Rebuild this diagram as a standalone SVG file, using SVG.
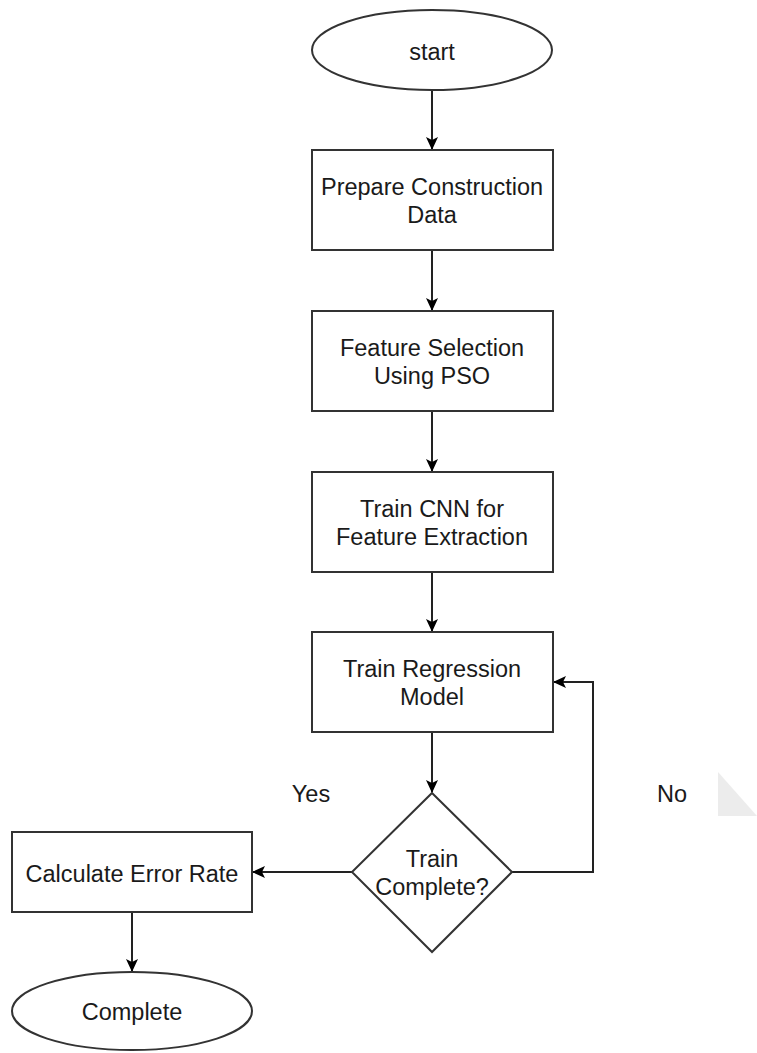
<svg xmlns="http://www.w3.org/2000/svg" width="757" height="1053" viewBox="0 0 757 1053">
<style>
.s{fill:#fff;stroke:#333;stroke-width:2}
.t{font-family:"Liberation Sans",Arial,sans-serif;font-size:23.5px;fill:#1a1a1a;text-anchor:middle}
.c{fill:none;stroke:#222;stroke-width:2}
</style>
<defs>
<marker id="a" markerWidth="14" markerHeight="14" refX="12" refY="7" orient="auto" markerUnits="userSpaceOnUse">
<path d="M0,1 L13,7 L0,13 L3,7 Z" fill="#000"/>
</marker>
</defs>
<rect width="757" height="1053" fill="#fff"/>
<polygon points="718,772 718,816 757,816" fill="#ececec"/>
<g id="connectors">
<line class="c" x1="432" y1="90" x2="432" y2="149" marker-end="url(#a)"/>
<line class="c" x1="432" y1="250" x2="432" y2="310" marker-end="url(#a)"/>
<line class="c" x1="432" y1="411" x2="432" y2="471" marker-end="url(#a)"/>
<line class="c" x1="432" y1="572" x2="432" y2="631" marker-end="url(#a)"/>
<line class="c" x1="432" y1="732" x2="432" y2="792" marker-end="url(#a)"/>
<polyline class="c" points="512,872 593,872 593,682 554,682" marker-end="url(#a)"/>
<line class="c" x1="352" y1="872" x2="253" y2="872" marker-end="url(#a)"/>
<line class="c" x1="132" y1="912" x2="132" y2="971" marker-end="url(#a)"/>
<text class="t" x="311" y="802">Yes</text>
<text class="t" x="672" y="802">No</text>
</g>
<g id="start">
<ellipse class="s" cx="432" cy="50" rx="120" ry="40"/>
<text class="t" x="432" y="60">start</text>
</g>
<g id="prepare">
<rect class="s" x="312" y="150" width="241" height="100"/>
<text class="t" x="432" y="195">Prepare Construction</text>
<text class="t" x="432" y="223">Data</text>
</g>
<g id="feature">
<rect class="s" x="312" y="311" width="241" height="100"/>
<text class="t" x="432" y="356">Feature Selection</text>
<text class="t" x="432" y="384">Using PSO</text>
</g>
<g id="cnn">
<rect class="s" x="312" y="472" width="241" height="100"/>
<text class="t" x="432" y="517">Train CNN for</text>
<text class="t" x="432" y="545">Feature Extraction</text>
</g>
<g id="regression">
<rect class="s" x="312" y="632" width="241" height="100"/>
<text class="t" x="432" y="677">Train Regression</text>
<text class="t" x="432" y="705">Model</text>
</g>
<g id="decision">
<polygon class="s" points="432,793 512,872 432,952 352,872"/>
<text class="t" x="432" y="867">Train</text>
<text class="t" x="432" y="895">Complete?</text>
</g>
<g id="error">
<rect class="s" x="12" y="832" width="240" height="80"/>
<text class="t" x="132" y="882">Calculate Error Rate</text>
</g>
<g id="complete">
<ellipse class="s" cx="132" cy="1011" rx="120" ry="39"/>
<text class="t" x="132" y="1020">Complete</text>
</g>
</svg>
